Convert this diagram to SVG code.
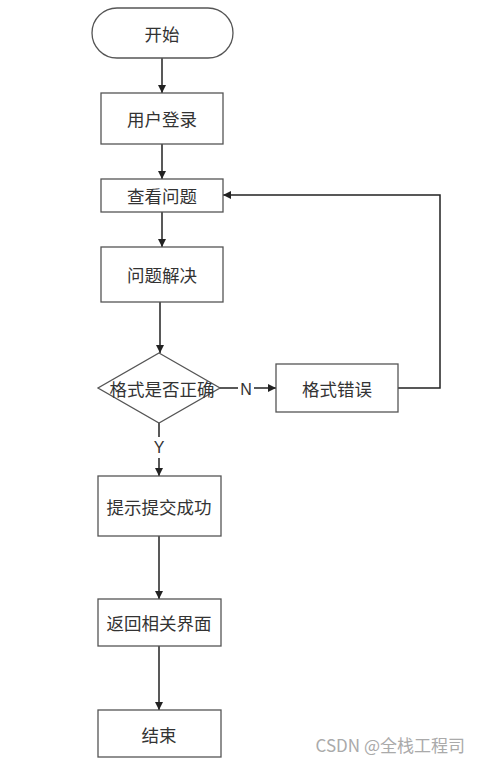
<svg xmlns="http://www.w3.org/2000/svg" width="479" height="772" viewBox="0 0 479 772">
<style>
.box{fill:#fff;stroke:#555;stroke-width:1.3}
.t{font-family:"Noto Sans CJK SC","Liberation Sans",sans-serif;font-size:17.5px;fill:#333;text-anchor:middle;dominant-baseline:central}
.lbl{font-family:"Liberation Sans",Arial,sans-serif;font-size:16px;fill:#333;text-anchor:middle;dominant-baseline:central}
.ln{fill:none;stroke:#222;stroke-width:1.5}
</style>
<defs>
<marker id="ah" viewBox="0 0 10 10" refX="10" refY="5" markerWidth="8" markerHeight="8" markerUnits="userSpaceOnUse" orient="auto">
<path d="M0,0 L10,5 L0,10 z" fill="#222"/>
</marker>
</defs>
<rect width="479" height="772" fill="#fff"/>
<g id="connectors">
<line class="ln" x1="162" y1="58" x2="162" y2="93" marker-end="url(#ah)"/>
<line class="ln" x1="162" y1="144" x2="162" y2="179" marker-end="url(#ah)"/>
<line class="ln" x1="162" y1="212" x2="162" y2="247" marker-end="url(#ah)"/>
<line class="ln" x1="160" y1="302" x2="160" y2="353" marker-end="url(#ah)"/>
<polyline class="ln" points="220,388 238,388"/>
<line class="ln" x1="254" y1="388" x2="276" y2="388" marker-end="url(#ah)"/>
<polyline class="ln" points="398,388 440,388 440,195 223,195" marker-end="url(#ah)"/>
<line class="ln" x1="159" y1="423" x2="159" y2="437"/>
<line class="ln" x1="159" y1="458" x2="159" y2="476" marker-end="url(#ah)"/>
<line class="ln" x1="159" y1="536" x2="159" y2="599" marker-end="url(#ah)"/>
<line class="ln" x1="159" y1="646" x2="159" y2="710" marker-end="url(#ah)"/>
<text class="lbl" x="246" y="389">N</text>
<text class="lbl" x="159" y="447">Y</text>
</g>
<g id="start">
<rect class="box" x="92" y="8" width="141" height="50" rx="25" ry="25"/>
<text class="t" x="162" y="33">开始</text>
</g>
<g id="login">
<rect class="box" x="101" y="93" width="122" height="51"/>
<text class="t" x="162" y="118">用户登录</text>
</g>
<g id="view">
<rect class="box" x="101" y="179" width="122" height="33"/>
<text class="t" x="162" y="195">查看问题</text>
</g>
<g id="solve">
<rect class="box" x="101" y="247" width="122" height="55"/>
<text class="t" x="162" y="274">问题解决</text>
</g>
<g id="check">
<polygon class="box" points="159,353 220,388 159,423 98,388"/>
<text class="t" x="162" y="388">格式是否正确</text>
</g>
<g id="error">
<rect class="box" x="276" y="364" width="122" height="48"/>
<text class="t" x="337" y="388">格式错误</text>
</g>
<g id="success">
<rect class="box" x="98" y="476" width="123" height="60"/>
<text class="t" x="159" y="506">提示提交成功</text>
</g>
<g id="back">
<rect class="box" x="98" y="599" width="123" height="47"/>
<text class="t" x="159" y="622">返回相关界面</text>
</g>
<g id="end">
<rect class="box" x="98" y="710" width="123" height="47"/>
<text class="t" x="159" y="734">结束</text>
</g>
<text x="465" y="752" font-family="'Noto Sans CJK SC','Liberation Sans',sans-serif" font-size="17" fill="#aaa" text-anchor="end">CSDN @全栈工程司</text>
</svg>
